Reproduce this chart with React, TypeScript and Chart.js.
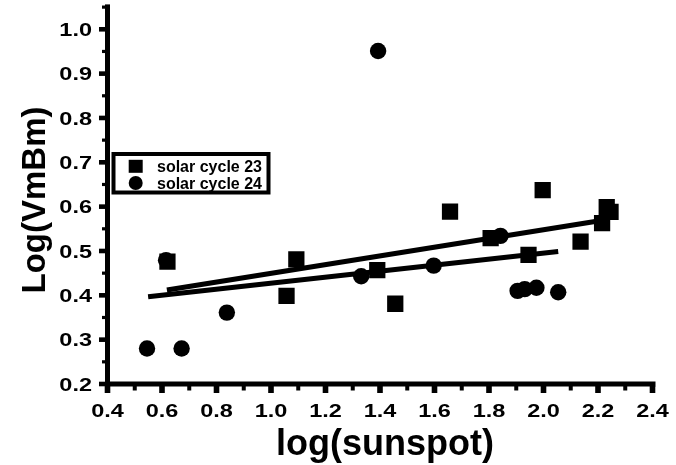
import React, { useEffect, useRef } from 'react';
import { Chart, registerables } from 'chart.js';

Chart.register(...registerables);

// ---- data ----
const seriesNames = ['solar cycle 23', 'solar cycle 24'];

const cycle23X = [0.62, 1.057, 1.093, 1.39, 1.456, 1.657, 1.806, 1.945, 1.997, 2.136, 2.215, 2.232, 2.246];
const cycle23Y = [0.476, 0.399, 0.481, 0.457, 0.381, 0.589, 0.529, 0.491, 0.637, 0.521, 0.563, 0.599, 0.588];

const cycle24X = [0.545, 0.615, 0.672, 0.838, 1.331, 1.393, 1.597, 1.842, 1.905, 1.931, 1.974, 2.054];
const cycle24Y = [0.28, 0.479, 0.28, 0.361, 0.443, 0.951, 0.467, 0.534, 0.41, 0.414, 0.417, 0.407];

// fitted lines (end points)
const fit23X = [0.618, 2.235];
const fit23Y = [0.412, 0.571];
const fit24X = [0.549, 2.054];
const fit24Y = [0.397, 0.499];

const xTickLabels = ['0.4', '0.6', '0.8', '1.0', '1.2', '1.4', '1.6', '1.8', '2.0', '2.2', '2.4'];
const yTickLabels = ['0.2', '0.3', '0.4', '0.5', '0.6', '0.7', '0.8', '0.9', '1.0'];
const xTitle = 'log(sunspot)';
const yTitle = 'Log(VmBm)';

const X_MIN = 0.4;
const X_MAX = 2.4;
const Y_MIN = 0.2;
const Y_MAX = 1.055;

const W = 676;
const H = 465;

const TICK_FONT = 'bold 18.8px "Liberation Sans", Arial, sans-serif';
const TICK_STRETCH = 1.25;

function stretchedText(ctx: CanvasRenderingContext2D, text: string, x: number, y: number, sx: number, align: CanvasTextAlign) {
  ctx.save();
  ctx.translate(x, y);
  ctx.scale(sx, 1);
  ctx.textAlign = align;
  ctx.textBaseline = 'alphabetic';
  ctx.fillText(text, 0, 0);
  ctx.restore();
}

const originAxes = {
  id: 'originAxes',
  afterDraw(chart: any) {
    const ctx: CanvasRenderingContext2D = chart.ctx;
    const xs = chart.scales.x;
    const ys = chart.scales.y;
    const x0 = xs.getPixelForValue(X_MIN);
    const x1 = xs.getPixelForValue(X_MAX);
    const y0 = ys.getPixelForValue(Y_MIN);
    const yTop = ys.getPixelForValue(Y_MAX);
    ctx.save();
    ctx.fillStyle = '#000';
    // axis lines
    ctx.fillRect(x0 - 2.5, yTop - 0.5, 5, y0 - yTop + 3);
    ctx.fillRect(x0 - 2.5, y0 - 2.5, x1 - x0 + 5.5, 5);

    // y ticks (major + minor)
    const yVals = yTickLabels.map(parseFloat);
    yVals.forEach((v) => {
      const py = ys.getPixelForValue(v);
      ctx.fillRect(x0 - 8.5, py - 2.3, 6.5, 4.6);
    });
    const yStep = yVals[1] - yVals[0];
    yVals.forEach((v) => {
      const m = v + yStep / 2;
      if (m <= Y_MAX + 1e-9) {
        const py = ys.getPixelForValue(m);
        ctx.fillRect(x0 - 5.5, py - 1.6, 3.5, 3.2);
      }
    });
    // x ticks (major + minor)
    const xVals = xTickLabels.map(parseFloat);
    xVals.forEach((v) => {
      const px = xs.getPixelForValue(v);
      ctx.fillRect(px - 2.8, y0 + 2, 5.6, 7);
    });
    const xStep = xVals[1] - xVals[0];
    xVals.forEach((v) => {
      const m = v + xStep / 2;
      if (m <= X_MAX + 1e-9) {
        const px = xs.getPixelForValue(m);
        ctx.fillRect(px - 2, y0 + 2, 4, 4.5);
      }
    });

    // tick labels
    ctx.font = TICK_FONT;
    xTickLabels.forEach((lab) => {
      const px = xs.getPixelForValue(parseFloat(lab));
      stretchedText(ctx, lab, px, y0 + 33, TICK_STRETCH, 'center');
    });
    yTickLabels.forEach((lab) => {
      const py = ys.getPixelForValue(parseFloat(lab));
      stretchedText(ctx, lab, x0 - 15.5, py + 6.8, TICK_STRETCH, 'right');
    });

    // axis titles
    ctx.font = 'bold 36px "Liberation Sans", Arial, sans-serif';
    ctx.textAlign = 'center';
    ctx.textBaseline = 'alphabetic';
    ctx.fillText(xTitle, (x0 + x1) / 2 + 5, 455);
    ctx.save();
    ctx.font = 'bold 33px "Liberation Sans", Arial, sans-serif';
    ctx.translate(45, 200);
    ctx.rotate(-Math.PI / 2);
    ctx.fillText(yTitle, 0, 0);
    ctx.restore();

    // legend box
    const lx = 113.5, ly = 154, lw = 155, lh = 38.5;
    ctx.fillStyle = '#fff';
    ctx.fillRect(lx, ly, lw, lh);
    ctx.strokeStyle = '#000';
    ctx.lineWidth = 4;
    ctx.strokeRect(lx, ly, lw, lh);
    ctx.fillStyle = '#000';
    const rows = [166.3, 183];
    // square marker
    ctx.fillRect(135.7 - 7, rows[0] - 6.5, 14, 13);
    // circle marker
    ctx.beginPath();
    ctx.arc(135.7, rows[1], 7, 0, Math.PI * 2);
    ctx.fill();
    ctx.font = 'bold 16px "Liberation Sans", Arial, sans-serif';
    ctx.textAlign = 'left';
    seriesNames.forEach((name, i) => {
      ctx.fillText(name, 157, rows[i] + 5.8);
    });
    ctx.restore();
  },
};

export default function App() {
  const ref = useRef<HTMLCanvasElement | null>(null);

  useEffect(() => {
    if (!ref.current) return;
    const pts = (xs: number[], ys: number[]) => xs.map((x, i) => ({ x, y: ys[i] }));
    const chart = new Chart(ref.current, {
      type: 'scatter',
      data: {
        datasets: [
          {
            label: seriesNames[0],
            data: pts(cycle23X, cycle23Y),
            pointStyle: 'rect',
            pointRadius: 11.5,
            backgroundColor: '#000',
            borderColor: '#000',
            borderWidth: 0,
          },
          {
            label: seriesNames[1],
            data: pts(cycle24X, cycle24Y),
            pointStyle: 'circle',
            pointRadius: 8.2,
            backgroundColor: '#000',
            borderColor: '#000',
            borderWidth: 0,
          },
          {
            label: 'fit 23',
            data: pts(fit23X, fit23Y),
            showLine: true,
            borderColor: '#000',
            borderWidth: 5,
            pointRadius: 0,
          },
          {
            label: 'fit 24',
            data: pts(fit24X, fit24Y),
            showLine: true,
            borderColor: '#000',
            borderWidth: 5,
            pointRadius: 0,
          },
        ],
      } as any,
      options: {
        responsive: false,
        animation: false,
        events: [],
        layout: { autoPadding: false, padding: { left: 0, right: W - 652.5, top: 4.9, bottom: 0 } },
        plugins: { legend: { display: false }, tooltip: { enabled: false } },
        scales: {
          x: {
            type: 'linear',
            min: X_MIN,
            max: X_MAX,
            grid: { display: false },
            border: { display: false },
            ticks: { display: false },
            afterFit: (s: any) => {
              s.height = H - 384;
            },
          },
          y: {
            type: 'linear',
            min: Y_MIN,
            max: Y_MAX,
            grid: { display: false },
            border: { display: false },
            ticks: { display: false },
            afterFit: (s: any) => {
              s.width = 107.5;
            },
          },
        },
      } as any,
      plugins: [originAxes],
    });
    return () => chart.destroy();
  }, []);

  return (
    <div style={{ position: 'fixed', left: 0, top: 0, width: W, height: H, background: '#fff' }}>
      <canvas ref={ref} width={W} height={H} />
    </div>
  );
}
